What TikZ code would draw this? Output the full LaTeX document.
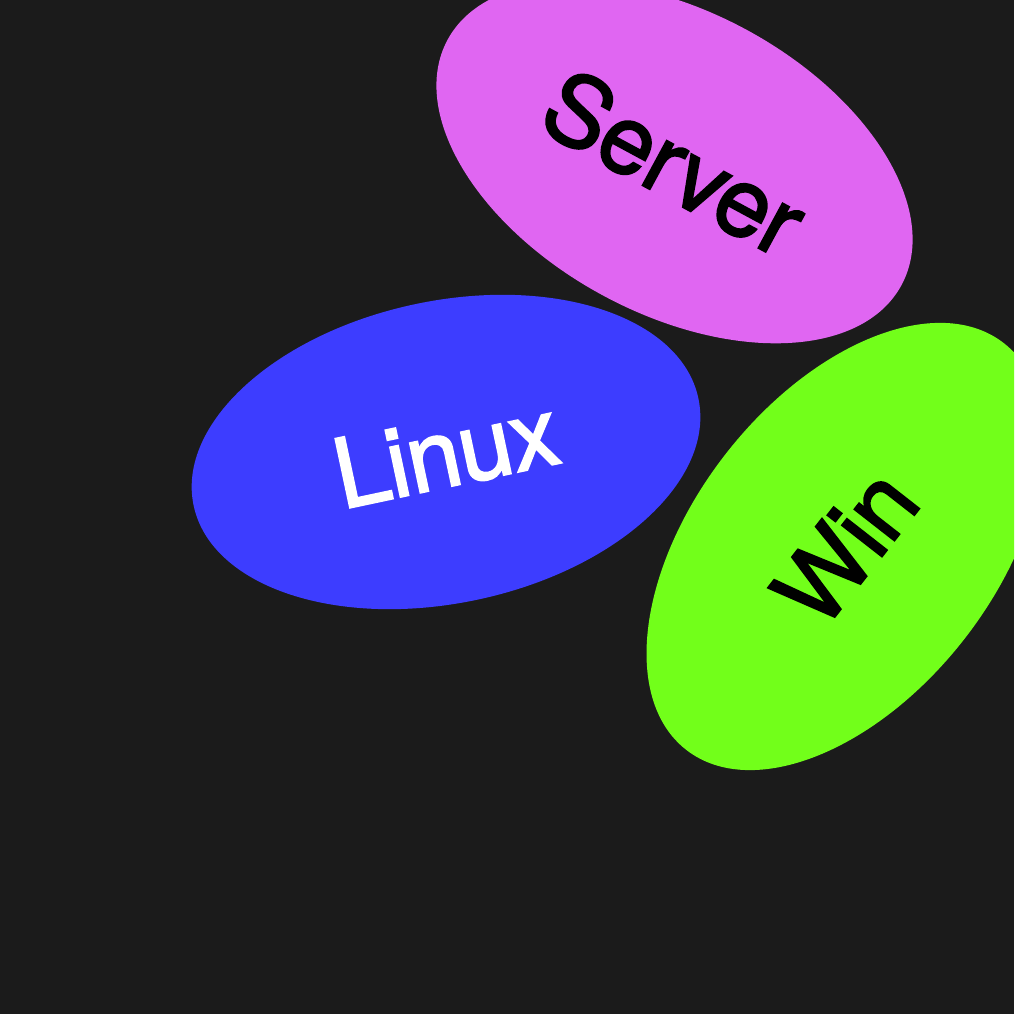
\documentclass[tikz,border=0pt]{standalone}
\usepackage{fontspec}
\setmainfont{TeX Gyre Heros}
\newfontfamily\blobfont{TeX Gyre Heros}[FakeBold=2,LetterSpace=-1.2]
\usepackage{tikz}
\usetikzlibrary{shapes.geometric}
\definecolor{backdrop}{HTML}{1B1B1B}
\definecolor{serverpink}{HTML}{E066F2}
\definecolor{linuxblue}{HTML}{3D3DFF}
\definecolor{wingreen}{HTML}{72FF1A}

\begin{document}
\begin{tikzpicture}
                \tikzstyle{blob}=[ellipse,draw=none,inner sep=0pt,minimum width=5.16cm,minimum height=3.02cm,font=\blobfont\fontsize{27.5}{32}\selectfont]

                \clip (0,0) rectangle (10.14,10.14);
                \fill [backdrop] (0,0) rectangle (10.14,10.14);
                \node [blob,fill=serverpink,text=black,rotate=-28.4] (server) at (6.745,8.515)
                {Server};
                \node [blob,fill=linuxblue,text=white,rotate=12] (linux) at (4.46,5.62)
                {Linux};
                \node [blob,fill=wingreen,text=black,rotate=52] (win) at (8.45,4.675)
                {Win};
            \end{tikzpicture}
\end{document}
